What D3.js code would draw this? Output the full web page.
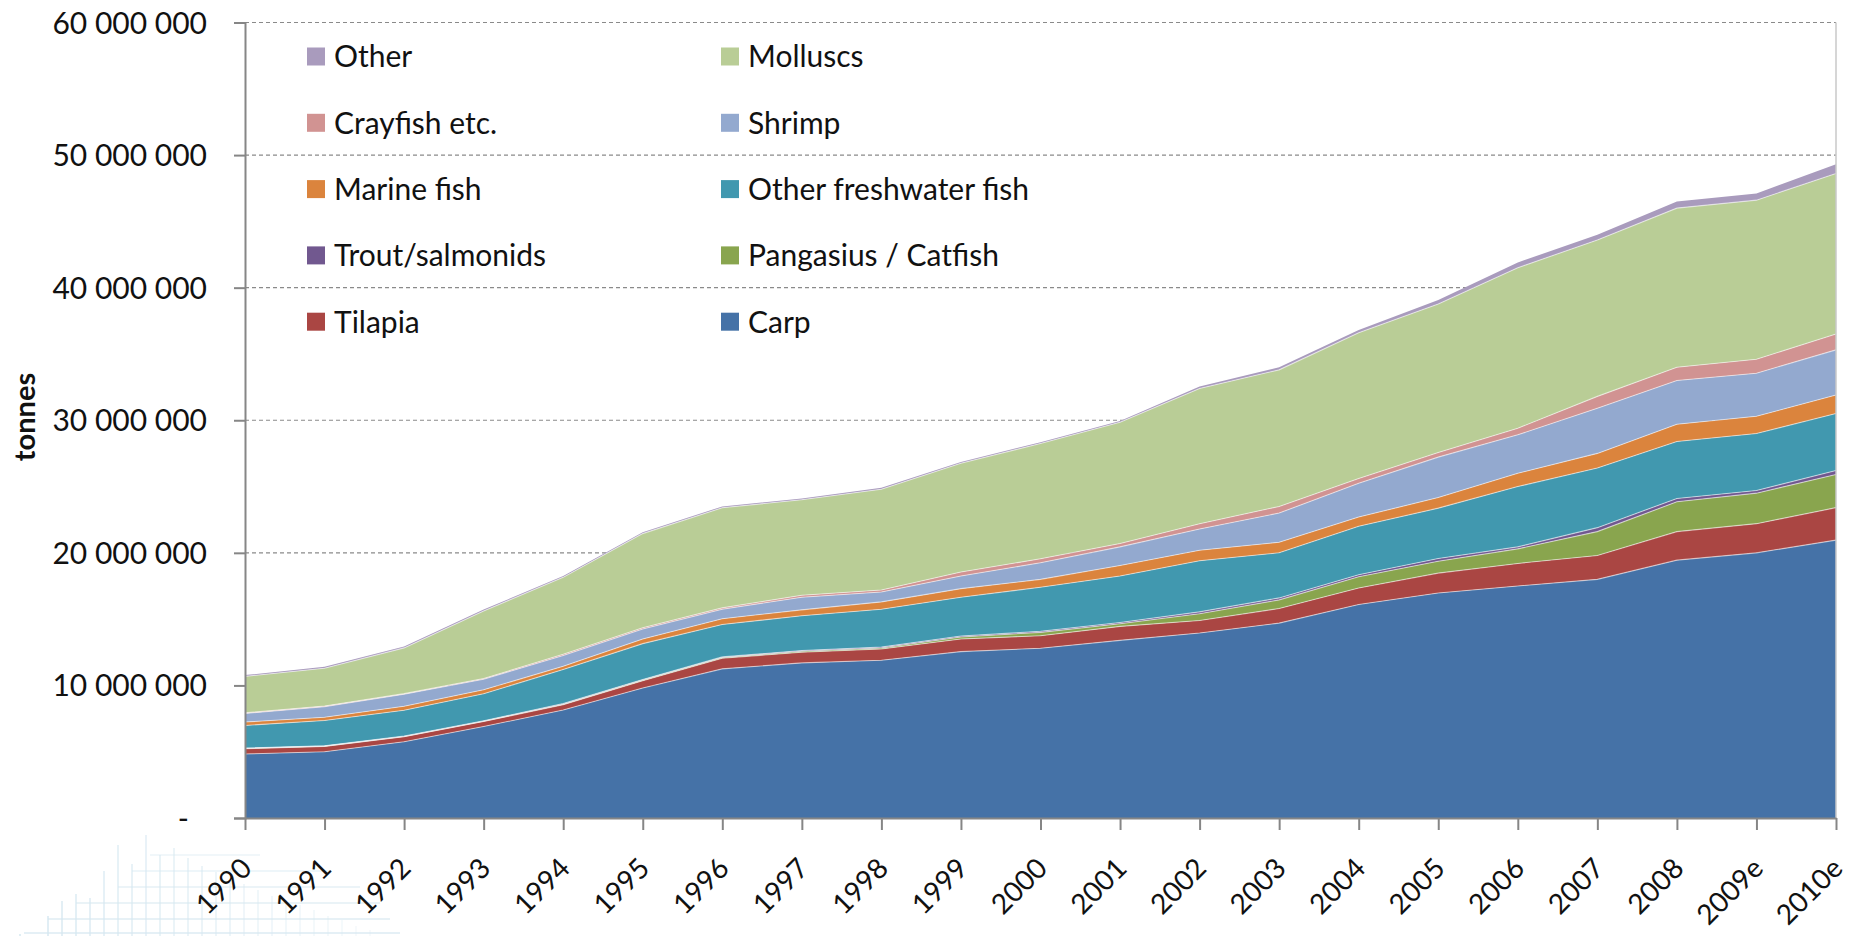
<!DOCTYPE html>
<html>
<head>
<meta charset="utf-8">
<script src="https://cdn.jsdelivr.net/npm/d3@7/dist/d3.min.js"></script>
<style>
body{margin:0;background:#fff;}
text{font-family:Lato, "Open Sans", sans-serif;fill:#111;}
</style>
</head>
<body>
<svg id="chart" width="1856" height="936"></svg>
<script>
// aquaculture production by species group, values in million tonnes
var years = ["1990","1991","1992","1993","1994","1995","1996","1997","1998","1999","2000",
             "2001","2002","2003","2004","2005","2006","2007","2008","2009e","2010e"];

var carp      = [4.83,5.0,5.75,6.9,8.15,9.8,11.25,11.7,11.9,12.55,12.8,13.4,13.95,14.7,16.1,16.97,17.5,18.0,19.45,20.0,20.96];
var tilapia   = [0.4,0.4,0.38,0.38,0.4,0.55,0.8,0.8,0.85,0.95,0.95,1.05,0.95,1.1,1.25,1.5,1.7,1.8,2.15,2.2,2.45];
var pangasius = [0.02,0.02,0.02,0.02,0.03,0.05,0.05,0.08,0.08,0.15,0.25,0.2,0.5,0.65,0.85,0.9,1.1,1.8,2.25,2.3,2.5];
var trout     = [0.03,0.03,0.03,0.04,0.05,0.05,0.05,0.05,0.07,0.08,0.08,0.1,0.15,0.15,0.15,0.2,0.15,0.3,0.25,0.2,0.3];
var other_fw  = [1.7,1.9,1.95,2.03,2.57,2.7,2.45,2.62,2.85,2.92,3.32,3.5,3.85,3.4,3.65,3.8,4.55,4.5,4.3,4.3,4.3];
var marine    = [0.26,0.25,0.3,0.3,0.25,0.35,0.43,0.45,0.55,0.65,0.6,0.8,0.8,0.8,0.7,0.8,1.0,1.1,1.3,1.3,1.4];
var shrimp    = [0.64,0.8,0.9,0.8,0.8,0.75,0.72,0.95,0.75,0.95,1.25,1.4,1.6,2.2,2.55,3.05,2.9,3.4,3.3,3.25,3.4];
var crayfish  = [0.05,0.05,0.05,0.05,0.1,0.1,0.1,0.15,0.15,0.3,0.3,0.25,0.4,0.5,0.35,0.35,0.5,0.9,1.0,1.05,1.2];
var molluscs  = [2.75,2.85,3.45,5.1,5.8,7.1,7.55,7.2,7.6,8.2,8.7,9.15,10.2,10.3,11.0,11.2,12.1,11.8,12.0,12.0,12.1];
var other     = [0.1,0.1,0.1,0.1,0.1,0.1,0.1,0.1,0.1,0.1,0.1,0.1,0.15,0.2,0.2,0.3,0.4,0.4,0.5,0.5,0.7];

var series_names  = ["Carp","Tilapia","Pangasius / Catfish","Trout/salmonids","Other freshwater fish",
                     "Marine fish","Shrimp","Crayfish etc.","Molluscs","Other"];
var series_values = [carp,tilapia,pangasius,trout,other_fw,marine,shrimp,crayfish,molluscs,other];
var series_colors = ["#4572a7","#aa4643","#89a54e","#71588f","#4198af",
                     "#db843d","#93a9cf","#d19392","#b9cd96","#a99bbd"];

var y_ticks = [0,10000000,20000000,30000000,40000000,50000000,60000000];

// legend layout as in the original: two columns, top row first
var legend_rows = [["Other","Molluscs"],["Crayfish etc.","Shrimp"],["Marine fish","Other freshwater fish"],
                   ["Trout/salmonids","Pangasius / Catfish"],["Tilapia","Carp"]];

var LEFT = 245, RIGHT = 1836, TOP = 22.5, BOTTOM = 818;
var AXIS_COLOR = "#868686";

var svg = d3.select("#chart");

// faint grid watermark in the lower left corner
function draw_watermark(){
    var g = svg.append("g").attr("stroke","#d6e8f1").attr("stroke-width",1.5).attr("fill","none");
    var tops = [934,938,916,901,894,898,871,845,864,835,855,848,858,866,872,880,884,890,896,900,905,910,916,920,926,930];
    for(var i=0; i<tops.length; i++){
        var xx = 20 + i*14;
        g.append("line").attr("x1",xx).attr("x2",xx).attr("y1",tops[i]).attr("y2",936)
            .attr("opacity", 1 - i*0.03);
    }
    var rows = [[933,24,400],[919,48,390],[903,76,380],[887,118,360],[871,132,330],[855,150,260]];
    rows.forEach(function(r,i){
        g.append("line").attr("x1",r[1]).attr("x2",r[2]).attr("y1",r[0]).attr("y2",r[0])
            .attr("opacity",0.85 - i*0.08);
    });
}
draw_watermark();

var table = years.map(function(yr,i){
    var row = {year: yr};
    series_names.forEach(function(n,k){ row[n] = series_values[k][i]*1e6; });
    return row;
});

var stacked = d3.stack().keys(series_names)(table);

var x = d3.scalePoint().domain(years).range([LEFT,RIGHT]);
var y = d3.scaleLinear().domain([0,60000000]).range([BOTTOM,TOP]);

// dashed gridlines behind the areas
svg.append("g").selectAll("line")
    .data(y_ticks.filter(function(t){ return t>0; }))
    .join("line")
    .attr("x1",LEFT).attr("x2",RIGHT)
    .attr("y1",function(d){ return y(d); }).attr("y2",function(d){ return y(d); })
    .attr("stroke","#8a8a8a").attr("stroke-width",1.2).attr("stroke-dasharray","4,3");

var area = d3.area()
    .x(function(d){ return x(d.data.year); })
    .y0(function(d){ return y(d[0]); })
    .y1(function(d){ return y(d[1]); });

var top_line = d3.line()
    .x(function(d){ return x(d.data.year); })
    .y(function(d){ return y(d[1]); });

svg.append("g").selectAll("path")
    .data(stacked)
    .join("path")
    .attr("d",area)
    .attr("fill",function(d,i){ return series_colors[i]; });

// thin light seams between the layers
svg.append("g").selectAll("path")
    .data(stacked.slice(0,stacked.length-1))
    .join("path")
    .attr("d",top_line)
    .attr("fill","none")
    .attr("stroke","#ffffff")
    .attr("stroke-opacity",0.55)
    .attr("stroke-width",1.1);

// right border of the plot area
svg.append("line").attr("x1",RIGHT).attr("x2",RIGHT).attr("y1",TOP).attr("y2",BOTTOM)
    .attr("stroke","#c8c8c8").attr("stroke-width",1.5);

function tonnes_fmt(d){
    if(d === 0){ return "-"; }
    return d3.format(",")(d).replace(/,/g," ");
}

var y_axis = svg.append("g")
    .attr("transform","translate(" + LEFT + ",0)")
    .call(d3.axisLeft(y).tickValues(y_ticks).tickSize(11).tickPadding(27).tickFormat(tonnes_fmt));
y_axis.selectAll("text")
    .style("font-size","30px")
    .attr("dy","0.35em")
    .attr("dx",function(d){ return d === 0 ? -18 : 0; });

var x_axis = svg.append("g")
    .attr("transform","translate(0," + BOTTOM + ")")
    .call(d3.axisBottom(x).tickSize(12).tickSizeOuter(0));
x_axis.selectAll("text")
    .style("font-size","28px")
    .attr("text-anchor","end")
    .attr("transform","translate(8,52) rotate(-45)")
    .attr("x",0).attr("y",0).attr("dy",0);

[y_axis,x_axis].forEach(function(ax){
    ax.select(".domain").attr("stroke",AXIS_COLOR).attr("stroke-width",2);
    ax.selectAll(".tick line").attr("stroke",AXIS_COLOR).attr("stroke-width",2);
});

svg.append("text")
    .attr("transform","translate(25,417) rotate(-90)")
    .attr("text-anchor","middle")
    .attr("dy","0.35em")
    .style("font-size","29px")
    .style("font-weight","bold")
    .text("tonnes");

// legend
var legend = svg.append("g");
var col_x = [307,721];
legend_rows.forEach(function(row,r){
    var cy = 56.5 + r*66.3;
    row.forEach(function(name,c){
        var k = series_names.indexOf(name);
        legend.append("rect")
            .attr("x",col_x[c]).attr("y",cy-9).attr("width",18).attr("height",18)
            .attr("fill",series_colors[k]);
        legend.append("text")
            .attr("x",col_x[c]+27).attr("y",cy).attr("dy","0.36em")
            .style("font-size","30px")
            .text(name);
    });
});
</script>
</body>
</html>
